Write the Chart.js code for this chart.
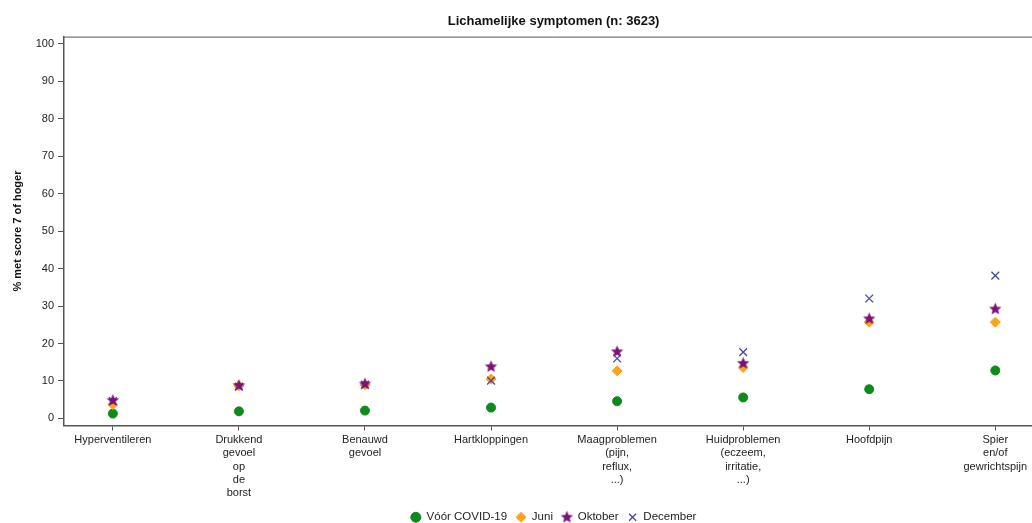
<!DOCTYPE html>
<html>
<head>
<meta charset="utf-8">
<script src="https://cdn.jsdelivr.net/npm/chart.js@4.4.1/dist/chart.umd.min.js"></script>
<style>
  html, body { margin: 0; padding: 0; background: #fff; overflow: hidden; }
  canvas { display: block; }
</style>
</head>
<body>
<canvas id="chart" width="1050" height="523"></canvas>
<script>
// categories (multi-line labels as in the original)
const categories = [
    ["Hyperventileren"],
    ["Drukkend", "gevoel", "op", "de", "borst"],
    ["Benauwd", "gevoel"],
    ["Hartkloppingen"],
    ["Maagproblemen", "(pijn,", "reflux,", "...)"],
    ["Huidproblemen", "(eczeem,", "irritatie,", "...)"],
    ["Hoofdpijn"],
    ["Spier", "en/of", "gewrichtspijn"]
];

const voorCovid = [1.3, 1.9, 2.1, 2.9, 4.6, 5.6, 7.8, 12.8];
const juni      = [3.7, 8.7, 9.0, 10.5, 12.7, 13.6, 25.7, 25.7];
const oktober   = [4.8, 8.8, 9.2, 13.8, 17.8, 14.7, 26.6, 29.2];
const december  = [4.6, 8.5, 9.0, 10.1, 16.0, 17.7, 32.0, 38.1];

const yTicks = [0, 10, 20, 30, 40, 50, 60, 70, 80, 90, 100];

const axisColor = "#555";
const textColor = "#222";

// filled five-point star as point image
function makeStar(color, r) {
    const size = Math.ceil(r * 2) + 2;
    const c = document.createElement("canvas");
    c.width = size;
    c.height = size;
    const g = c.getContext("2d");
    const cx = size / 2, cy = size / 2;
    g.beginPath();
    for (let i = 0; i < 10; i++) {
        const rad = i % 2 === 0 ? r : r * 0.45;
        const a = -Math.PI / 2 + i * Math.PI / 5;
        const px = cx + rad * Math.cos(a);
        const py = cy + rad * Math.sin(a);
        if (i === 0) g.moveTo(px, py); else g.lineTo(px, py);
    }
    g.closePath();
    g.fillStyle = color;
    g.fill();
    return c;
}

function toPoints(vals) {
    return vals.map((v, i) => ({ x: i, y: v }));
}

const topBorder = {
    id: "topBorder",
    afterDraw(chart) {
        const a = chart.chartArea;
        const ctx = chart.ctx;
        ctx.save();
        ctx.strokeStyle = axisColor;
        ctx.lineWidth = 1;
        ctx.beginPath();
        ctx.moveTo(a.left, a.top + 0.5);
        ctx.lineTo(a.right, a.top + 0.5);
        ctx.stroke();
        ctx.restore();
    }
};

Chart.defaults.font.family = "'Liberation Sans', Arial, sans-serif";
Chart.defaults.color = textColor;

new Chart(document.getElementById("chart"), {
    type: "scatter",
    data: {
        datasets: [
            {
                label: "Vóór COVID-19",
                data: toPoints(voorCovid),
                pointStyle: "circle",
                pointRadius: 4.5,
                backgroundColor: "#0d8a1c",
                borderColor: "#0d8a1c",
                order: 3
            },
            {
                label: "Juni",
                data: toPoints(juni),
                pointStyle: "rectRot",
                pointRadius: 5,
                backgroundColor: "#ffa31a",
                borderColor: "#ffa31a",
                order: 2
            },
            {
                label: "Oktober",
                data: toPoints(oktober),
                pointStyle: makeStar("#7a1278", 6.5),
                backgroundColor: "#7a1278",
                borderColor: "#7a1278",
                order: 0
            },
            {
                label: "December",
                data: toPoints(december),
                pointStyle: "crossRot",
                pointRadius: 5.5,
                borderWidth: 1.3,
                backgroundColor: "#4646a6",
                borderColor: "#4646a6",
                order: 1
            }
        ]
    },
    options: {
        responsive: false,
        animation: false,
        layout: { padding: { right: 4, bottom: -10 } },
        plugins: {
            title: {
                display: true,
                text: "Lichamelijke symptomen (n: 3623)",
                fullSize: false,
                color: "#111",
                font: { size: 13, weight: "bold" },
                padding: { top: 14, bottom: 7 }
            },
            legend: {
                position: "bottom",
                fullSize: false,
                labels: {
                    usePointStyle: true,
                    pointStyleWidth: 10,
                    boxWidth: 7,
                    boxHeight: 7,
                    padding: 9,
                    color: textColor,
                    font: { size: 11.5 },
                    sort: (a, b) => a.datasetIndex - b.datasetIndex
                }
            },
            tooltip: { enabled: false }
        },
        scales: {
            x: {
                type: "linear",
                min: -0.3876,
                max: 7.38,
                afterBuildTicks: (axis) => {
                    axis.ticks = categories.map((c, i) => ({ value: i }));
                },
                ticks: {
                    autoSkip: false,
                    maxRotation: 0,
                    padding: 3,
                    color: textColor,
                    font: { size: 11, lineHeight: 1.2 },
                    callback: (v) => categories[v]
                },
                grid: {
                    drawOnChartArea: false,
                    drawTicks: true,
                    tickLength: 5,
                    color: axisColor
                },
                border: { display: true, color: axisColor, width: 1.5 }
            },
            y: {
                min: -1.88,
                max: 101.88,
                afterBuildTicks: (axis) => {
                    axis.ticks = yTicks.map(v => ({ value: v }));
                },
                afterFit: (axis) => { axis.width = 64; },
                ticks: {
                    padding: 4,
                    color: textColor,
                    font: { size: 11 }
                },
                grid: {
                    drawOnChartArea: false,
                    drawTicks: true,
                    tickLength: 6,
                    color: axisColor
                },
                border: { display: true, color: axisColor, width: 1.5 },
                title: {
                    display: true,
                    text: "% met score 7 of hoger",
                    color: "#111",
                    font: { size: 11, weight: "bold" },
                    padding: { top: 11, bottom: 0 }
                }
            }
        }
    },
    plugins: [topBorder]
});
</script>
</body>
</html>
